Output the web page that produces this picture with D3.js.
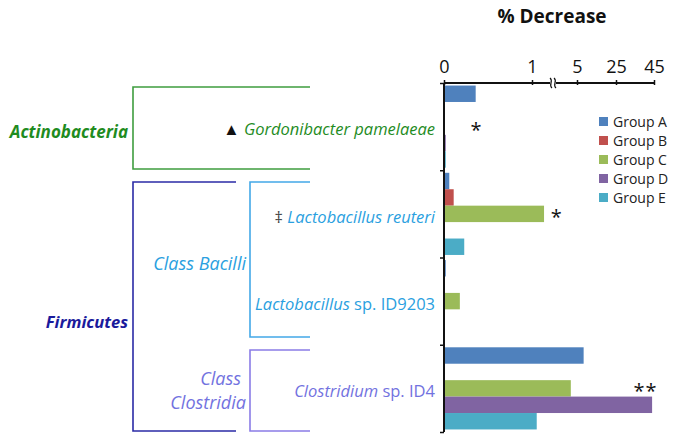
<!DOCTYPE html>
<html>
<head>
<meta charset="utf-8">
<script src="https://cdn.jsdelivr.net/npm/d3@7"></script>
<style>
  body { margin: 0; background: #fff; }
  svg text { font-family: "Open Sans", "Noto Sans", sans-serif; }
</style>
</head>
<body>
<div id="chart"></div>
<script>
// taxa (rows, top to bottom) and the five groups
const taxa = ['Gordonibacter pamelaeae', 'Lactobacillus reuteri', 'Lactobacillus sp. ID9203', 'Clostridium sp. ID4'];
const groups = ['Group A', 'Group B', 'Group C', 'Group D', 'Group E'];
const groupColors = ['#4f81bd', '#c0504d', '#9bbb59', '#8064a2', '#4bacc6'];

// % decrease per taxon, one array per group
const groupA = [0.36, 0.06, 0.02, 8.4];
const groupB = [0, 0.11, 0, 0];
const groupC = [0, 2.07, 0.18, 4.45];
const groupD = [0.02, 0, 0, 44];
const groupE = [0.02, 0.23, 0, 1.42];

// broken x axis: 0..1 linear, then 5..45
const tickValues = [0, 1, 5, 25, 45];

// significance marks
const stars = [
  {taxon: 'Gordonibacter pamelaeae', group: 'Group C', at: 0.37, label: '*'},
  {taxon: 'Lactobacillus reuteri', group: 'Group C', at: 3.2, label: '*'},
  {taxon: 'Clostridium sp. ID4', group: 'Group C', at: 40.5, label: '**'}
];

const width = 675, height = 440;
const svg = d3.select('#chart').append('svg')
  .attr('width', width).attr('height', height);

const series = [groupA, groupB, groupC, groupD, groupE];
const data = [];
taxa.forEach((t, i) => {
  groups.forEach((g, j) => data.push({taxon: t, group: g, value: series[j][i]}));
});

let x = d3.scaleLinear()
  .domain([0, 1, 5, 25, 45])
  .range([444, 532, 577, 616, 654]);

let y = d3.scaleBand().domain(taxa).range([83, 432]).paddingInner(0).paddingOuter(0);
let yInner = d3.scaleBand().domain(groups).range([0, y.bandwidth()]).paddingOuter(0.155);
let color = d3.scaleOrdinal().domain(groups).range(groupColors);

// title
svg.append('text')
  .attr('x', 552).attr('y', 23)
  .attr('text-anchor', 'middle')
  .attr('font-size', 19).attr('font-weight', 'bold')
  .attr('fill', '#111')
  .text('% Decrease');

// bars
svg.append('g').selectAll('rect')
  .data(data.filter(d => d.value > 0))
  .join('rect')
    .attr('x', x(0))
    .attr('y', d => y(d.taxon) + yInner(d.group))
    .attr('width', d => x(d.value) - x(0))
    .attr('height', yInner.bandwidth())
    .attr('fill', d => color(d.group));

// top axis
const xAxis = svg.append('g')
  .attr('transform', 'translate(0,83)')
  .call(d3.axisTop(x).tickValues(tickValues).tickSize(4).tickFormat(d3.format('d')));
xAxis.select('.domain').attr('stroke', '#111').attr('stroke-width', 2)
  .attr('d', `M${x(0)},0H${x(45)}`);
xAxis.selectAll('.tick line').attr('stroke', '#111').attr('stroke-width', 1.5).attr('y1', 2).attr('y2', -3);
xAxis.selectAll('.tick text')
  .attr('font-size', 18).attr('fill', '#111').attr('y', -10);

// axis break
const bx = 553;
svg.append('rect').attr('x', bx - 3).attr('y', 78).attr('width', 6).attr('height', 10).attr('fill', '#fff');
[-2, 2].forEach(o => {
  svg.append('path')
    .attr('d', `M${bx + o - 1},78 C${bx + o + 3},81 ${bx + o - 3},85 ${bx + o + 1},88`)
    .attr('fill', 'none').attr('stroke', '#111').attr('stroke-width', 1.2);
});

// left axis (category boundaries)
let yEdge = d3.scaleLinear().domain([0, taxa.length]).range([83, 432]);
const yAxis = svg.append('g')
  .attr('transform', `translate(${x(0)},0)`)
  .call(d3.axisLeft(yEdge).ticks(taxa.length).tickSize(4).tickFormat(''));
yAxis.select('.domain').attr('stroke', '#111').attr('stroke-width', 2).attr('d', 'M0,83V432');
yAxis.selectAll('.tick line').attr('stroke', '#111').attr('stroke-width', 1.5);

// stars
svg.append('g').selectAll('text')
  .data(stars)
  .join('text')
    .attr('x', d => x(d.at))
    .attr('y', d => y(d.taxon) + yInner(d.group) + yInner.bandwidth() / 2 + 10)
    .attr('text-anchor', 'middle')
    .attr('font-size', 20)
    .attr('letter-spacing', 1)
    .attr('fill', '#111')
    .text(d => d.label);

// legend
const legend = svg.append('g').selectAll('g')
  .data(groups)
  .join('g')
    .attr('transform', (d, i) => `translate(599,${122 + i * 19})`);
legend.append('rect')
  .attr('x', 0).attr('y', -5).attr('width', 9).attr('height', 9)
  .attr('fill', d => color(d));
legend.append('text')
  .attr('x', 14).attr('y', 0).attr('dy', '0.35em')
  .attr('font-size', 14).attr('fill', '#222')
  .text(d => d);

// taxonomy tree on the left
const tree = svg.append('g').attr('fill', 'none').attr('stroke-width', 1.6);
function bracket(x0, x1, y0, y1, col) {
  tree.append('path')
    .attr('d', `M${x1},${y0}H${x0}V${y1}H${x1}`)
    .attr('stroke', col);
}
bracket(133, 310, 87, 169, '#3f9d3f');
bracket(133, 236, 182, 431, '#2b2ba6');
bracket(250, 310, 182, 337, '#43a8e8');
bracket(250, 310, 350, 431, '#8a7ce6');

function label(xp, yp, col, parts, size) {
  const t = svg.append('text')
    .attr('x', xp).attr('y', yp).attr('dy', '0.35em')
    .attr('text-anchor', 'end')
    .attr('font-size', size)
    .attr('fill', col);
  parts.forEach(p => {
    t.append('tspan')
      .attr('font-style', p.italic ? 'italic' : 'normal')
      .attr('font-weight', p.bold ? 'bold' : 'normal')
      .attr('fill', p.color || col)
      .text(p.text);
  });
  return t;
}

label(128, 132, '#1f8c1f', [{text: 'Actinobacteria', italic: true, bold: true}], 17);
label(128, 322, '#1a1a9c', [{text: 'Firmicutes', italic: true, bold: true}], 16.5);
label(246, 264, '#2aa0e0', [{text: 'Class Bacilli', italic: true}], 18);
label(241, 379, '#7272e0', [{text: 'Class', italic: true}], 18);
label(246, 403, '#7272e0', [{text: 'Clostridia', italic: true}], 18);

const taxonLabels = [
  [{text: '▲ ', color: '#111'}, {text: 'Gordonibacter pamelaeae', italic: true}],
  [{text: '‡ ', color: '#444'}, {text: 'Lactobacillus reuteri', italic: true}],
  [{text: 'Lactobacillus', italic: true}, {text: ' sp. ID9203'}],
  [{text: 'Clostridium', italic: true}, {text: ' sp. ID4'}]
];
const taxonColors = ['#1f8c1f', '#2aa0e0', '#2aa0e0', '#7272e0'];
taxa.forEach((t, i) => {
  label(435, y(t) + y.bandwidth() / 2 + 3, taxonColors[i], taxonLabels[i], 16.5);
});
</script>
</body>
</html>
